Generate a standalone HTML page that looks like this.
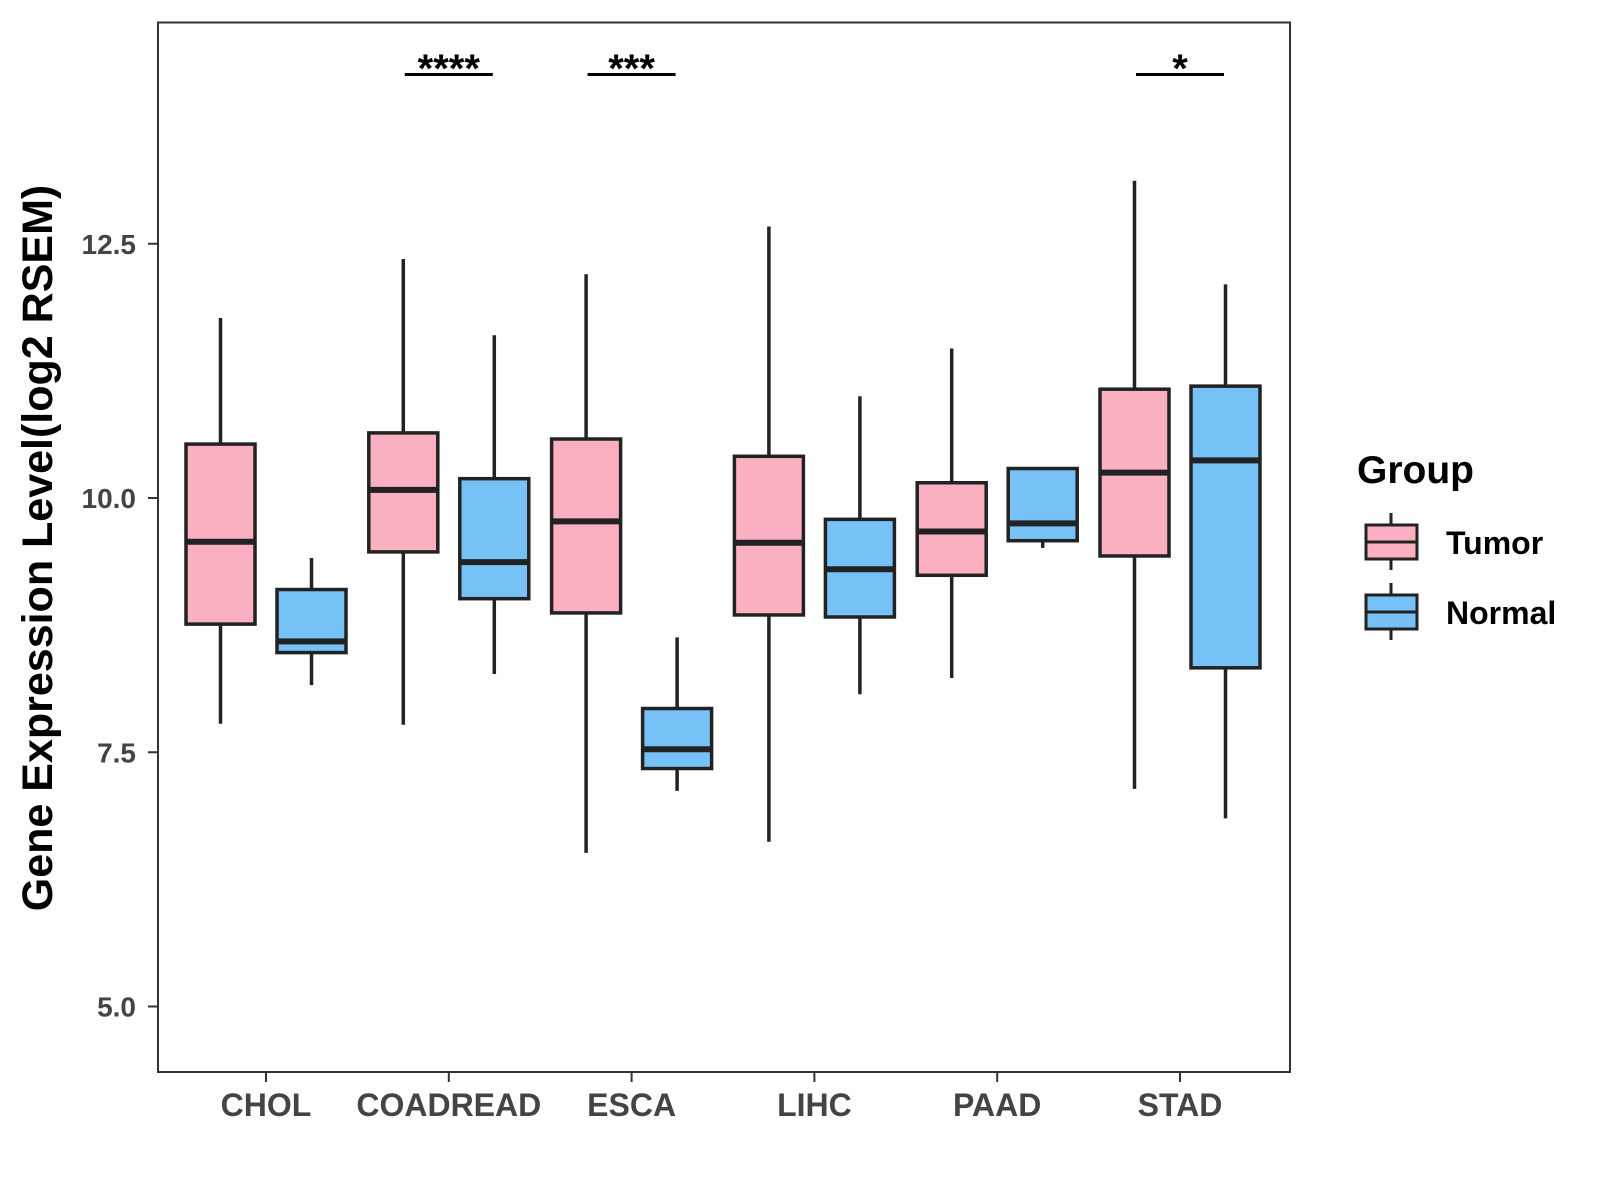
<!DOCTYPE html>
<html><head><meta charset="utf-8"><style>body{margin:0;background:#fff}svg{display:block}text{font-family:"Liberation Sans",Arial,sans-serif;font-weight:bold}</style></head>
<body>
<svg id="chart" width="1600" height="1200">
<rect x="158" y="22.5" width="1132" height="1049.5" fill="#fff" stroke="#333" stroke-width="2"/>
<g id="marks"></g>
<text x="52" y="548" transform="rotate(-90 52 548)" text-anchor="middle" font-size="43" fill="#000">Gene Expression Level(log2 RSEM)</text>
<g>
<text x="1357" y="483" font-size="39" fill="#000">Group</text>
<g>
<line x1="1391" y1="513" x2="1391" y2="570" stroke="#222" stroke-width="3"/>
<rect x="1366" y="525" width="51" height="34" fill="#FBB0C1" stroke="#222" stroke-width="3"/>
<line x1="1366" y1="542" x2="1417" y2="542" stroke="#222" stroke-width="3"/>
<text x="1446" y="554" font-size="32" fill="#000">Tumor</text></g>
<g>
<line x1="1391" y1="583" x2="1391" y2="640" stroke="#222" stroke-width="3"/>
<rect x="1366" y="595" width="51" height="34" fill="#76C2F7" stroke="#222" stroke-width="3"/>
<line x1="1366" y1="612" x2="1417" y2="612" stroke="#222" stroke-width="3"/>
<text x="1446" y="624" font-size="32" fill="#000">Normal</text></g>
</g>
</svg>
<script>
const categories=["CHOL","COADREAD","ESCA","LIHC","PAAD","STAD"];
const tumorStats=[[7.78,8.76,9.57,10.53,11.77],[7.77,9.47,10.08,10.64,12.35],[6.51,8.87,9.77,10.58,12.2],[6.62,8.85,9.56,10.41,12.67],[8.23,9.24,9.67,10.15,11.47],[7.14,9.43,10.25,11.07,13.12]];
const normalStats=[[8.16,8.48,8.59,9.10,9.41],[8.27,9.01,9.37,10.19,11.6],[7.12,7.34,7.53,7.93,8.63],[8.07,8.83,9.30,9.79,11.0],[9.51,9.58,9.75,10.29,10.29],[6.85,8.33,10.37,11.1,12.1]];
const yTicks=[5.0,7.5,10.0,12.5];
const yTickLabels=["5.0","7.5","10.0","12.5"];
const sigCategories=["COADREAD","ESCA","STAD"];
const sigLabels=["****","***","*"];
const NS="http://www.w3.org/2000/svg";
const y=v=>498-(v-10)*101.7;
const x=i=>266+i*182.8;
const g=document.getElementById('marks');
function mk(t,a,p){const e=document.createElementNS(NS,t);for(const k in a)e.setAttribute(k,a[k]);(p||g).appendChild(e);return e;}
yTicks.forEach((v,i)=>{
 const t=mk('line',{x1:148,x2:158,y1:y(v),y2:y(v),stroke:'#333','stroke-width':2});
 
 
 const l=mk('text',{x:136,y:y(v)+10,'text-anchor':'end','font-size':28,fill:'#444'});
 l.textContent=yTickLabels[i];
 
 
});
categories.forEach((c,i)=>{
 const t=mk('line',{x1:x(i),x2:x(i),y1:1072,y2:1082,stroke:'#333','stroke-width':2});
 
 
 const l=mk('text',{x:x(i),y:1116,'text-anchor':'middle','font-size':32,fill:'#444'});
 l.textContent=c;
 
 
});
function box(cx,s,fill,name){
 const grp=mk('g',{});
 
 
 mk('line',{x1:cx,x2:cx,y1:y(s[0]),y2:y(s[4]),stroke:'#222','stroke-width':3.5},grp);
 mk('rect',{x:cx-34.5,y:y(s[3]),width:69,height:y(s[1])-y(s[3]),fill:fill,stroke:'#222','stroke-width':3.5},grp);
 mk('line',{x1:cx-34.5,x2:cx+34.5,y1:y(s[2]),y2:y(s[2]),stroke:'#222','stroke-width':6},grp);
}
categories.forEach((c,i)=>{
 box(x(i)-45.5,tumorStats[i],'#FBB0C1','box-tumor-'+c.toLowerCase());
 box(x(i)+45.5,normalStats[i],'#76C2F7','box-normal-'+c.toLowerCase());
});
sigCategories.forEach((c,j)=>{
 const i=categories.indexOf(c);
 const l=mk('line',{x1:x(i)-44,x2:x(i)+44,y1:74.5,y2:74.5,stroke:'#000','stroke-width':3});
 
 
 const t=mk('text',{x:x(i),y:82,'text-anchor':'middle','font-size':40,fill:'#000'});
 t.textContent=sigLabels[j];
 
 
});
</script>
</body></html>
